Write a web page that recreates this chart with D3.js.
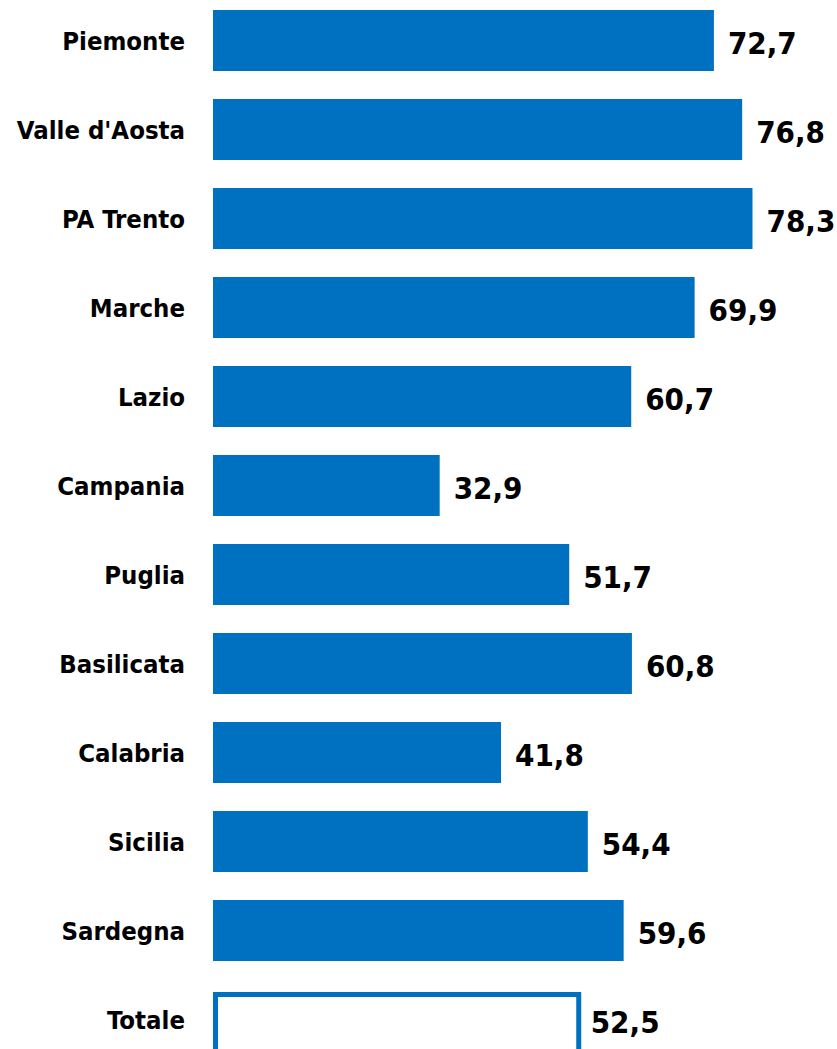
<!DOCTYPE html>
<html><head><meta charset="utf-8">
<script src="https://cdn.jsdelivr.net/npm/d3@7"></script>
<style>body{margin:0;background:#fff}svg{display:block}</style>
</head><body>
<svg id="c" width="837" height="1049"></svg>
<script>
const categories = ["Piemonte","Valle d'Aosta","PA Trento","Marche","Lazio","Campania","Puglia","Basilicata","Calabria","Sicilia","Sardegna","Totale"];
const values = [72.7,76.8,78.3,69.9,60.7,32.9,51.7,60.8,41.8,54.4,59.6,52.5];
const data = categories.map((c,i)=>({c, v: values[i]}));
const svg = d3.select("#c");
const x = d3.scaleLinear().domain([0,100]).range([213, 213+689]);
const y = d3.scaleBand().domain(categories).range([-4, -4+12*89]).paddingInner(28/89).paddingOuter(14/89);
const blue = "#0070C0";
const font = "'Liberation Sans Narrow','DejaVu Sans Condensed','Liberation Sans',sans-serif";
const isTot = d => d.c === "Totale";
svg.selectAll("rect.bar").data(data).join("rect")
  .attr("x", d => x(0) + (isTot(d) ? 2.5 : 0))
  .attr("y", d => y(d.c) + (isTot(d) ? 5.5 : 0))
  .attr("width", d => x(d.v) - x(0) + (isTot(d) ? 1.5 : 0))
  .attr("height", y.bandwidth())
  .attr("fill", d => isTot(d) ? "#fff" : blue)
  .attr("stroke", d => isTot(d) ? blue : "none")
  .attr("stroke-width", 5);
svg.selectAll("text.cat").data(data).join("text")
  .attr("x", 185).attr("y", d => y(d.c) + y.bandwidth()/2)
  .attr("text-anchor","end").attr("dominant-baseline","central")
  .attr("font-family",font).attr("font-weight","bold").attr("font-size",25.5)
  .text(d => d.c);
svg.selectAll("text.val").data(data).join("text")
  .attr("x", d => x(d.v) + (isTot(d) ? 16 : 14)).attr("y", d => y(d.c) + y.bandwidth()/2 + 2)
  .attr("dominant-baseline","central")
  .attr("font-family",font).attr("font-weight","bold").attr("font-size",31)
  .text(d => d3.format(".1f")(d.v).replace(".",","));
</script>
</body></html>
